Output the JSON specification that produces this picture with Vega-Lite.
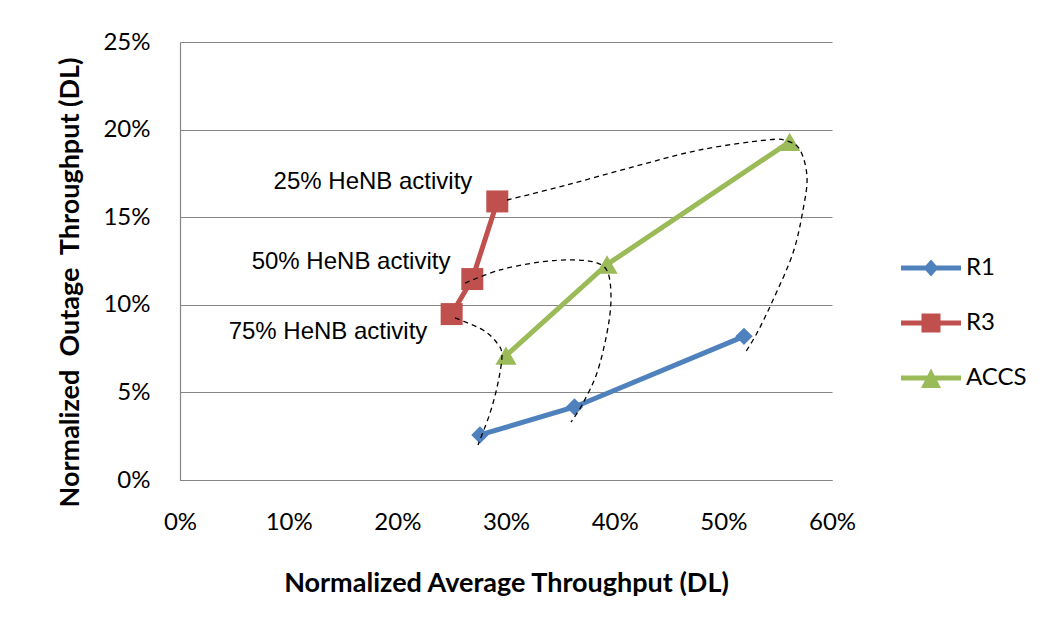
{
  "$schema": "https://vega.github.io/schema/vega-lite/v6.json",
  "width": 652,
  "height": 438,
  "autosize": {"type": "none"},
  "padding": {"left": 180, "top": 42, "right": 213, "bottom": 150},
  "background": "white",
  "config": {
    "view": {"stroke": null},
    "axis": {
      "labelFont": "Lato", "titleFont": "Lato", "labelColor": "#000", "titleColor": "#000",
      "gridColor": "#868686", "gridWidth": 1.2, "domainColor": "#868686", "domainWidth": 1.2,
      "ticks": false, "tickSize": 0, "labelFlush": false
    },
    "legend": {
      "orient": "none", "legendX": 726, "legendY": 201, "padding": 0,
      "symbolSize": 2500, "rowPadding": 18, "labelOffset": 10, "symbolOpacity": 1, "symbolStrokeWidth": 0,
      "labelFont": "Lato", "labelFontSize": 24, "labelColor": "#000"
    }
  },
  "datasets": {
    "series": [
      {"series": "R1", "avg": 0.276, "outage": 0.0257},
      {"series": "R1", "avg": 0.363, "outage": 0.0417},
      {"series": "R1", "avg": 0.519, "outage": 0.082},
      {"series": "R3", "avg": 0.250, "outage": 0.0947},
      {"series": "R3", "avg": 0.269, "outage": 0.1147},
      {"series": "R3", "avg": 0.292, "outage": 0.159},
      {"series": "ACCS", "avg": 0.300, "outage": 0.071},
      {"series": "ACCS", "avg": 0.393, "outage": 0.123},
      {"series": "ACCS", "avg": 0.561, "outage": 0.193}
    ],
    "curves": [
      {"curve": "c75", "ord": 1, "avg": 0.2531, "outage": 0.0925},
      {"curve": "c75", "ord": 2, "avg": 0.2788, "outage": 0.0856},
      {"curve": "c75", "ord": 3, "avg": 0.2917, "outage": 0.0782},
      {"curve": "c75", "ord": 4, "avg": 0.2963, "outage": 0.0713},
      {"curve": "c75", "ord": 5, "avg": 0.2926, "outage": 0.0554},
      {"curve": "c75", "ord": 6, "avg": 0.2853, "outage": 0.0382},
      {"curve": "c75", "ord": 7, "avg": 0.2742, "outage": 0.0200},
      {"curve": "c50", "ord": 1, "avg": 0.2623, "outage": 0.1124},
      {"curve": "c50", "ord": 2, "avg": 0.2945, "outage": 0.1199},
      {"curve": "c50", "ord": 3, "avg": 0.3313, "outage": 0.1244},
      {"curve": "c50", "ord": 4, "avg": 0.3617, "outage": 0.1256},
      {"curve": "c50", "ord": 5, "avg": 0.3837, "outage": 0.1239},
      {"curve": "c50", "ord": 6, "avg": 0.3939, "outage": 0.1182},
      {"curve": "c50", "ord": 7, "avg": 0.3966, "outage": 0.1027},
      {"curve": "c50", "ord": 8, "avg": 0.3929, "outage": 0.0839},
      {"curve": "c50", "ord": 9, "avg": 0.3837, "outage": 0.0611},
      {"curve": "c50", "ord": 10, "avg": 0.3709, "outage": 0.0439},
      {"curve": "c50", "ord": 11, "avg": 0.3598, "outage": 0.0331},
      {"curve": "c25", "ord": 1, "avg": 0.3009, "outage": 0.1598},
      {"curve": "c25", "ord": 2, "avg": 0.3561, "outage": 0.1684},
      {"curve": "c25", "ord": 3, "avg": 0.4169, "outage": 0.1787},
      {"curve": "c25", "ord": 4, "avg": 0.4785, "outage": 0.1884},
      {"curve": "c25", "ord": 5, "avg": 0.5402, "outage": 0.1941},
      {"curve": "c25", "ord": 6, "avg": 0.5586, "outage": 0.1935},
      {"curve": "c25", "ord": 7, "avg": 0.5706, "outage": 0.1884},
      {"curve": "c25", "ord": 8, "avg": 0.5770, "outage": 0.1729},
      {"curve": "c25", "ord": 9, "avg": 0.5733, "outage": 0.1541},
      {"curve": "c25", "ord": 10, "avg": 0.5641, "outage": 0.1296},
      {"curve": "c25", "ord": 11, "avg": 0.5457, "outage": 0.1027},
      {"curve": "c25", "ord": 12, "avg": 0.5310, "outage": 0.0839},
      {"curve": "c25", "ord": 13, "avg": 0.5199, "outage": 0.0725}
    ],
    "notes": [
      {"label": "25% HeNB activity", "avg": 0.1776, "outage": 0.170},
      {"label": "50% HeNB activity", "avg": 0.1574, "outage": 0.1244},
      {"label": "75% HeNB activity", "avg": 0.1362, "outage": 0.0845}
    ]
  },
  "layer": [
    {
      "data": {"name": "series"},
      "mark": {"type": "line", "strokeWidth": 5},
      "encoding": {
        "x": {"field": "avg", "type": "quantitative",
          "scale": {"domain": [0, 0.6], "nice": false},
          "axis": {"values": [0, 0.1, 0.2, 0.3, 0.4, 0.5, 0.6], "format": ".0%", "grid": false,
            "labelFontSize": 24, "labelPadding": 30,
            "title": "Normalized Average Throughput (DL)", "titleFontSize": 27, "titleFontWeight": "bold", "titlePadding": 36}},
        "y": {"field": "outage", "type": "quantitative",
          "scale": {"domain": [0, 0.25], "nice": false},
          "axis": {"values": [0, 0.05, 0.1, 0.15, 0.2, 0.25], "format": ".0%", "grid": true,
            "labelFontSize": 24, "labelPadding": 30,
            "title": "Normalized\u00a0 Outage\u00a0 Throughput (DL)", "titleFontSize": 27, "titleFontWeight": "bold", "titlePadding": 18, "titleY": 240}},
        "color": {"field": "series", "type": "nominal",
          "scale": {"domain": ["R1", "R3", "ACCS"], "range": ["#4F81BD", "#C0504D", "#9BBB59"]},
          "legend": {"title": null}}
      }
    },
    {
      "data": {"name": "series"},
      "transform": [{"filter": "datum.series === 'R1'"}],
      "mark": {"type": "point", "filled": true, "opacity": 1, "shape": "diamond", "size": 300},
      "encoding": {
        "x": {"field": "avg", "type": "quantitative"},
        "y": {"field": "outage", "type": "quantitative"},
        "color": {"field": "series", "type": "nominal"}}
    },
    {
      "data": {"name": "series"},
      "transform": [{"filter": "datum.series === 'R3'"}],
      "mark": {"type": "point", "filled": true, "opacity": 1, "shape": "square", "size": 484},
      "encoding": {
        "x": {"field": "avg", "type": "quantitative"},
        "y": {"field": "outage", "type": "quantitative"},
        "color": {"field": "series", "type": "nominal"}}
    },
    {
      "data": {"name": "series"},
      "transform": [{"filter": "datum.series === 'ACCS'"}],
      "mark": {"type": "point", "filled": true, "opacity": 1, "shape": "triangle-up", "size": 450},
      "encoding": {
        "x": {"field": "avg", "type": "quantitative"},
        "y": {"field": "outage", "type": "quantitative"},
        "color": {"field": "series", "type": "nominal"}}
    },
    {
      "data": {"name": "series"},
      "mark": {"type": "point", "filled": true, "opacity": 0},
      "encoding": {
        "x": {"field": "avg", "type": "quantitative"},
        "y": {"field": "outage", "type": "quantitative"},
        "color": {"field": "series", "type": "nominal", "legend": {"title": null}},
        "shape": {"field": "series", "type": "nominal",
          "scale": {"domain": ["R1", "R3", "ACCS"], "range": [
            "M-1.2,-0.1H1.2V0.1H-1.2Z M0,-0.34L0.3,0L0,0.34L-0.3,0Z",
            "M-1.2,-0.1H1.2V0.1H-1.2Z M-0.38,-0.38H0.38V0.38H-0.38Z",
            "M-1.2,-0.1H1.2V0.1H-1.2Z M0,-0.38L0.4,0.4H-0.4Z"]},
          "legend": {"title": null}}
      }
    },
    {
      "data": {"name": "curves"},
      "mark": {"type": "line", "interpolate": "cardinal", "stroke": "#000", "strokeWidth": 1.3, "strokeDash": [5, 4]},
      "encoding": {
        "x": {"field": "avg", "type": "quantitative"},
        "y": {"field": "outage", "type": "quantitative"},
        "detail": {"field": "curve"},
        "order": {"field": "ord", "type": "quantitative"}
      }
    },
    {
      "data": {"name": "notes"},
      "mark": {"type": "text", "font": "Liberation Sans", "fontSize": 24, "align": "center", "baseline": "middle", "color": "#000"},
      "encoding": {
        "x": {"field": "avg", "type": "quantitative"},
        "y": {"field": "outage", "type": "quantitative"},
        "text": {"field": "label"}
      }
    }
  ]
}
